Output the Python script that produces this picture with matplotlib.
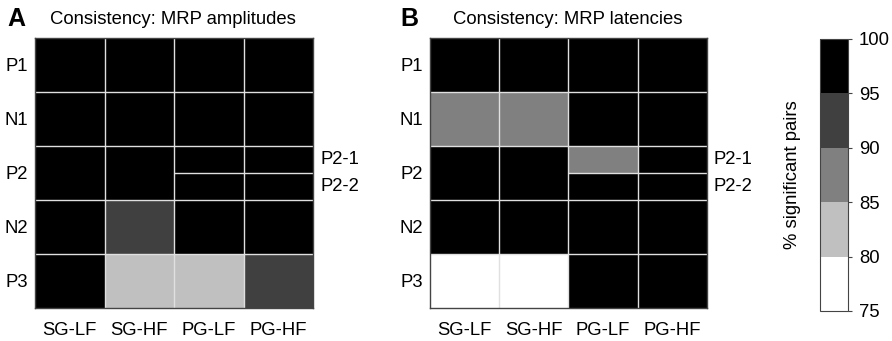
import numpy as np
import matplotlib.pyplot as plt
from matplotlib.colors import ListedColormap, BoundaryNorm

plt.rcParams['font.family'] = ['Liberation Sans', 'DejaVu Sans']

# rows: P1, N1, P2-1, P2-2, N2, P3 ; columns: conditions
conditions = ['SG-LF', 'SG-HF', 'PG-LF', 'PG-HF']
components = ['P1', 'N1', 'P2', 'N2', 'P3']
sub_labels = ['P2-1', 'P2-2']

amplitudes = np.array([
    [98, 98, 98, 98],
    [98, 98, 98, 98],
    [98, 98, 98, 98],
    [98, 98, 98, 98],
    [98, 93, 98, 98],
    [98, 83, 83, 93],
])

latencies = np.array([
    [98, 98, 98, 98],
    [88, 88, 98, 98],
    [98, 98, 88, 98],
    [98, 98, 98, 98],
    [98, 98, 98, 98],
    [78, 78, 98, 98],
])

levels = [75, 80, 85, 90, 95, 100]
cmap = ListedColormap(['#ffffff', '#c0c0c0', '#808080', '#404040', '#000000'])
norm = BoundaryNorm(levels, cmap.N)

fs = 13.3
fig = plt.figure(figsize=(8.92, 3.41), dpi=100)

x_edges = np.arange(5)
y_edges = np.array([0, 1, 2, 2.5, 3, 4, 5])


def draw_panel(ax, data, letter, title, letter_x, title_x):
    ax.pcolormesh(x_edges, y_edges, data, cmap=cmap, norm=norm)
    ax.set_xlim(0, 4)
    ax.set_ylim(5, 0)
    # light grid lines between cells
    for x in [1, 2, 3]:
        ax.axvline(x, color='#e0e0e0', lw=1)
    for y in [1, 2, 3, 4]:
        ax.axhline(y, color='#e0e0e0', lw=1)
    ax.hlines(2.5, 2, 4, color='#e0e0e0', lw=1)
    for s in ax.spines.values():
        s.set_color('#444444')
        s.set_linewidth(1)
    ax.set_xticks(np.arange(4) + 0.5)
    ax.set_xticklabels(conditions, fontsize=fs)
    ax.set_yticks(np.arange(5) + 0.5)
    ax.set_yticklabels(components, fontsize=fs)
    ax.tick_params(length=0)
    ax.tick_params(axis='x', pad=10)
    ax.tick_params(axis='y', pad=5)
    # sub-row labels on the right
    for i, lab in enumerate(sub_labels):
        ax.text(4.1, 2.25 + 0.5 * i, lab, fontsize=fs, va='center', ha='left')
    fig.text(letter_x, 0.944, letter, fontsize=18, fontweight='bold', va='center')
    fig.text(title_x, 0.944, title, fontsize=fs, va='center')


axA = fig.add_axes([0.0392, 0.0968, 0.312, 0.792])
draw_panel(axA, amplitudes, 'A', 'Consistency: MRP amplitudes', 0.008, 0.056)

axB = fig.add_axes([0.482, 0.0968, 0.3105, 0.792])
draw_panel(axB, latencies, 'B', 'Consistency: MRP latencies', 0.449, 0.508)

cax = fig.add_axes([0.919, 0.088, 0.0314, 0.798])
sm = plt.cm.ScalarMappable(cmap=cmap, norm=norm)
cb = fig.colorbar(sm, cax=cax, ticks=levels)
cb.ax.tick_params(labelsize=fs, length=3, color='#444444', pad=5)
cb.outline.set_edgecolor('#444444')
cax.text(-0.96, 0.5, '% significant pairs', fontsize=fs, rotation=90,
         ha='center', va='center', transform=cax.transAxes)

fig.savefig('out.png', dpi=100)
